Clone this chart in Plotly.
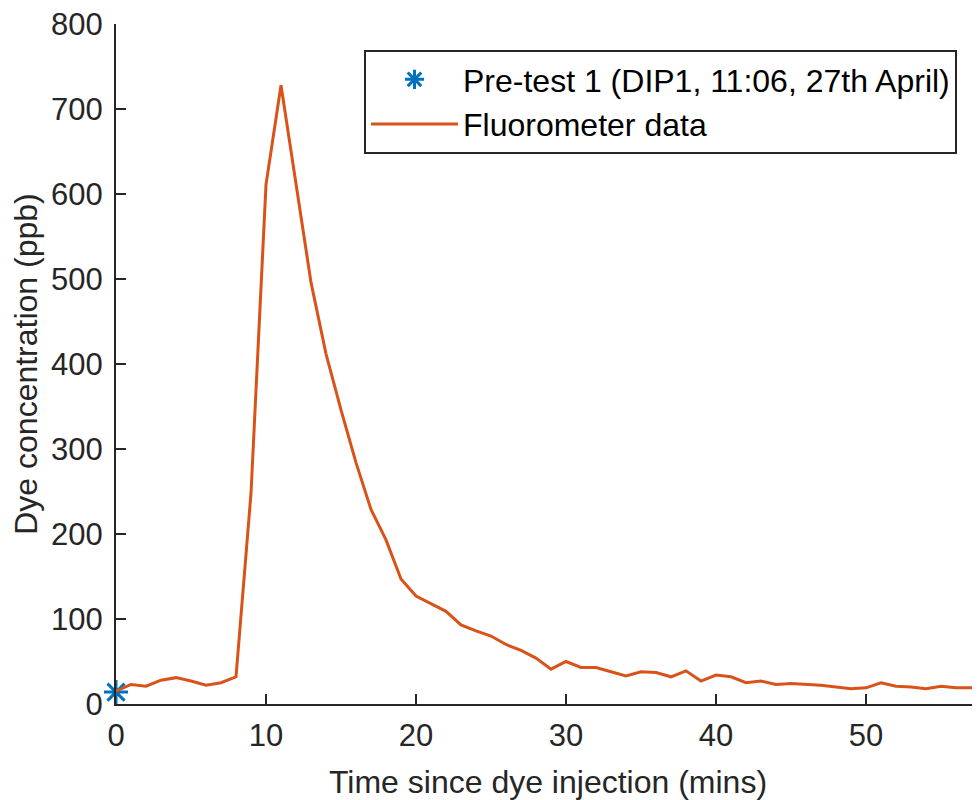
import plotly.graph_objects as go

# Fluorometer data (minutes since injection, ppb)
time_min = list(range(0, 59))
conc_ppb = [15, 23, 21, 28, 31, 27, 22, 25, 32, 248,
            611, 728, 612, 496, 412, 346, 284, 229, 193, 147,
            127, 118, 109, 93, 86, 80, 70, 63, 54, 41,
            50, 43, 43, 38, 33, 38, 37, 32, 39, 27,
            34, 32, 25, 27, 23, 24, 23, 22, 20, 18,
            19, 25, 21, 20, 18, 21, 19, 19, 19]

pretest_x = [0]
pretest_y = [14]

x_ticks = [0, 10, 20, 30, 40, 50]
y_ticks = [0, 100, 200, 300, 400, 500, 600, 700, 800]

AX = "#262626"
FONT = "Liberation Sans, Arial, sans-serif"

# page body has an 8px margin; figure is sized to fill the rest of the window
W, H = 972, 792
L, T, B = 108, 16, 96
PW, PH = W - L, H - T - B

fig = go.Figure()
fig.add_trace(go.Scatter(
    x=pretest_x, y=pretest_y, mode="markers",
    name="Pre-test 1 (DIP1, 11:06, 27th April)",
    marker=dict(symbol="asterisk-open", size=20, color="#0072BD",
                line=dict(color="#0072BD", width=3)),
    cliponaxis=False,
))
fig.add_trace(go.Scatter(
    x=time_min, y=conc_ppb, mode="lines",
    name="Fluorometer data",
    line=dict(color="#D95319", width=3),
))

fig.update_layout(
    width=W, height=H,
    margin=dict(l=L, r=0, t=T, b=B, pad=0, autoexpand=False),
    paper_bgcolor="white", plot_bgcolor="white",
    font=dict(family=FONT, color=AX),
    showlegend=True,
    legend=dict(
        x=(356 - L) / PW, xanchor="left",
        y=(H - B - 42) / PH, yanchor="top",
        bgcolor="white", bordercolor=AX, borderwidth=2,
        font=dict(size=32, color="black", family=FONT),
        traceorder="normal", itemwidth=87,
    ),
    xaxis=dict(
        range=[0, 57.6], tickvals=x_ticks, automargin=False,
        ticks="inside", ticklen=10, tickwidth=2, tickcolor=AX,
        showline=True, linecolor=AX, linewidth=2,
        showgrid=False, zeroline=False, ticklabeloverflow="allow",
        tickfont=dict(size=31, color=AX), ticklabelstandoff=3,
        title=dict(text="Time since dye injection (mins)",
                   font=dict(size=32, color=AX), standoff=20),
    ),
    yaxis=dict(
        range=[0, 800], tickvals=y_ticks, automargin=False,
        ticks="inside", ticklen=10, tickwidth=2, tickcolor=AX,
        showline=True, linecolor=AX, linewidth=2,
        showgrid=False, zeroline=False, ticklabeloverflow="allow",
        tickfont=dict(size=31, color=AX), ticklabelstandoff=5,
        title=dict(text="Dye concentration (ppb)",
                   font=dict(size=32, color=AX), standoff=20),
    ),
)

fig.write_html("out.html")
